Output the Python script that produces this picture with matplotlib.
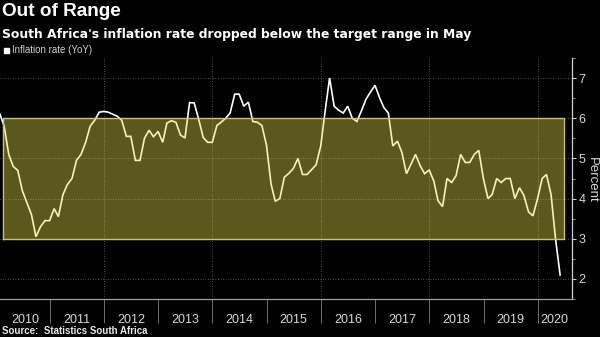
import matplotlib
matplotlib.use("Agg")
import matplotlib.pyplot as plt
import matplotlib.dates as mdates
import pandas as pd
import numpy as np

# ---- data (monthly YoY CPI, %, month-end dates) ----
cpi_2010 = [6.1, 5.8, 5.1, 4.8, 4.7, 4.2, 3.9, 3.6, 3.05, 3.3, 3.45, 3.45]
cpi_2011 = [3.75, 3.55, 4.1, 4.35, 4.5, 4.95, 5.1, 5.4, 5.8, 5.95, 6.15, 6.17]
cpi_2012 = [6.15, 6.1, 6.05, 5.95, 5.55, 5.55, 4.95, 4.95, 5.5, 5.7, 5.54, 5.67]
cpi_2013 = [5.4, 5.88, 5.94, 5.9, 5.58, 5.51, 6.39, 6.38, 5.98, 5.52, 5.4, 5.4]
cpi_2014 = [5.82, 5.9, 6.0, 6.13, 6.6, 6.6, 6.3, 6.4, 5.92, 5.9, 5.82, 5.33]
cpi_2015 = [4.36, 3.93, 4.0, 4.53, 4.63, 4.75, 5.0, 4.6, 4.6, 4.72, 4.84, 5.3]
cpi_2016 = [6.2, 7.0, 6.3, 6.2, 6.13, 6.3, 6.0, 5.92, 6.18, 6.47, 6.65, 6.82]
cpi_2017 = [6.51, 6.27, 6.13, 5.31, 5.43, 5.15, 4.62, 4.86, 5.1, 4.82, 4.62, 4.71]
cpi_2018 = [4.44, 3.95, 3.8, 4.5, 4.4, 4.57, 5.1, 4.9, 4.9, 5.1, 5.2, 4.5]
cpi_2019 = [4.0, 4.1, 4.5, 4.4, 4.5, 4.5, 4.0, 4.27, 4.08, 3.67, 3.57, 4.0]
cpi_2020 = [4.5, 4.6, 4.1, 3.0, 2.1]

years = list(range(2010, 2021))
target_low, target_high = 3, 6
y_ticks = [2, 3, 4, 5, 6, 7]

values = (cpi_2010 + cpi_2011 + cpi_2012 + cpi_2013 + cpi_2014 + cpi_2015 +
          cpi_2016 + cpi_2017 + cpi_2018 + cpi_2019 + cpi_2020)
dates = pd.date_range("2010-01-31", periods=len(values), freq="ME")

# ---- figure ----
BG = "black"
fig = plt.figure(figsize=(6, 3.37), dpi=100, facecolor=BG)
ax = fig.add_axes([0.0, 1 - 299 / 337, 571.7 / 600, (299 - 58) / 337])
ax.set_facecolor(BG)

x_left = pd.Timestamp("2010-01-31")
x_right = pd.Timestamp("2020-08-17")

ax.plot(dates, values, color="white", lw=1.2, zorder=3, solid_joinstyle="miter")

# target range band (semi-transparent overlay above line)
box_l = mdates.date2num(pd.Timestamp("2010-02-22"))
box_r = mdates.date2num(pd.Timestamp("2020-06-26"))
ax.fill_between([box_l, box_r], target_low, target_high,
                color=(0.90, 0.87, 0.30), alpha=0.40, lw=0, zorder=4)
ax.plot([box_l, box_r, box_r, box_l, box_l],
        [target_low, target_low, target_high, target_high, target_low],
        color="#c9c27a", lw=1.0, zorder=5)

ax.set_xlim(x_left, x_right)
ax.set_ylim(1.6, 7.5)

# grid
for yv in y_ticks:
    ax.axhline(yv, color="#6a6a6a", lw=0.6, ls=(0, (1, 2)), zorder=1)
for yr in years[2::2]:
    ax.axvline(pd.Timestamp(f"{yr}-01-01"), color="#6a6a6a", lw=0.6,
               ls=(0, (1, 2)), zorder=1)

# spines
for s in ["left", "top"]:
    ax.spines[s].set_visible(False)
ax.spines["right"].set_color("#d0d0d0")
ax.spines["bottom"].set_color("#a0a0a0")
ax.spines["right"].set_linewidth(0.9)
ax.spines["bottom"].set_linewidth(0.9)

# y axis on right
ax.yaxis.tick_right()
ax.set_yticks(y_ticks)
ax.set_yticks(np.arange(1.5, 7.6, 0.5), minor=True)
ax.tick_params(axis="y", which="major", length=3, width=0.8, color="#d0d0d0",
               labelcolor="#d8d8d8", labelsize=9, pad=2)
ax.tick_params(axis="y", which="minor", length=2.5, width=0.6, color="#a0a0a0")
ax.yaxis.set_label_position("right")

# x axis: year separators as long ticks, labels centred in visible year spans
sep = [pd.Timestamp(f"{yr}-01-01") for yr in years[1:]]
ax.set_xticks(sep)
ax.set_xticklabels([""] * len(sep))
ax.tick_params(axis="x", which="major", length=17, width=0.6, color="#808080")
lnum, rnum = mdates.date2num(x_left), mdates.date2num(x_right)
centers = []
for yr in years:
    a = max(mdates.date2num(pd.Timestamp(f"{yr}-01-01")), lnum)
    b = min(mdates.date2num(pd.Timestamp(f"{yr + 1}-01-01")), rnum)
    centers.append((a + b) / 2)
ax.set_xticks(centers, minor=True)
ax.set_xticklabels([str(y) for y in years], minor=True)
ax.tick_params(axis="x", which="minor", length=0, labelcolor="#d8d8d8",
               labelsize=9, pad=10.5)

narrow = ["Liberation Sans Narrow", "DejaVu Sans Condensed", "Liberation Sans"]
for lab in ax.get_xticklabels(minor=True) + ax.get_yticklabels():
    lab.set_family(narrow)

fig.text(592 / 600, 1 - 180 / 337, "Percent", rotation=270, color="#d8d8d8",
         fontsize=9.5, ha="center", va="center", family=narrow)

# titles
fig.text(2 / 600, 1 - 3 / 337, "Out of Range", color="white", fontsize=13.7,
         fontweight="bold", ha="left", va="top", family="Liberation Sans")
fig.text(2 / 600, 1 - 28 / 337,
         "South Africa's inflation rate dropped below the target range in May",
         color="white", fontsize=8.9, fontweight="bold", ha="left", va="top",
         family="DejaVu Sans")

# legend
fig.patches.append(plt.Rectangle((4 / 600, 1 - 52.5 / 337), 5 / 600, 5 / 337,
                                 transform=fig.transFigure, color="white"))
fig.text(12 / 600, 1 - 50 / 337, "Inflation rate (YoY)", color="#d0d0d0",
         fontsize=7, ha="left", va="center", family=narrow)

# source
fig.text(2 / 600, 1 - 331.5 / 337, "Source:  Statistics South Africa",
         color="#e8e8e8", fontsize=7, fontweight="bold", ha="left",
         va="center", family="Liberation Sans")

fig.savefig("out.png", dpi=100, facecolor=BG)
